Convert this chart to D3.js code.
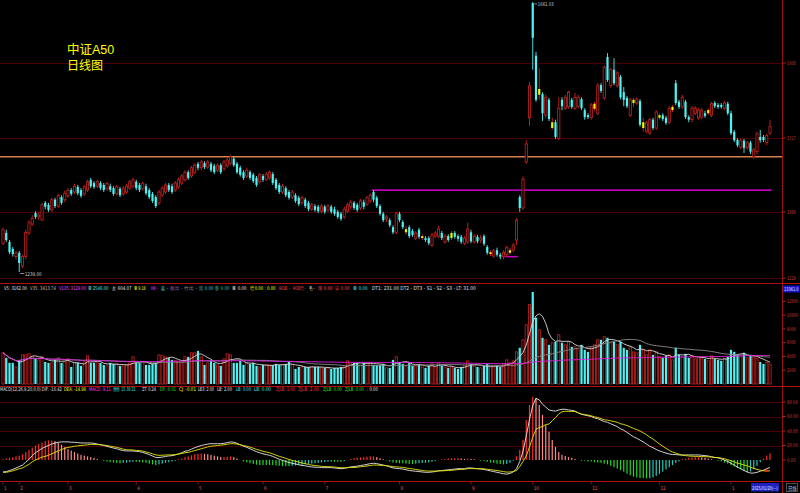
<!DOCTYPE html>
<html><head><meta charset="utf-8">
<script src="https://cdn.jsdelivr.net/npm/d3@7"></script>
<style>html,body{margin:0;padding:0;background:#000;overflow:hidden}text{font-family:"DejaVu Sans",sans-serif}</style>
</head><body><svg id="c" width="800" height="493"></svg>
<script>
const openP=[1284,1300,1286,1275,1263,1269,1248,1263,1300,1314,
1331,1325,1320,1347,1344,1336,1352,1342,1356,1352,
1358,1367,1364,1372,1367,1361,1367,1383,1378,1373,
1378,1375,1369,1373,1370,1362,1369,1361,1364,1370,
1373,1380,1375,1369,1373,1367,1361,1356,1347,1359,
1364,1375,1373,1367,1372,1378,1383,1395,1389,1395,
1408,1402,1409,1403,1408,1405,1398,1406,1400,1405,
1409,1416,1408,1402,1395,1389,1395,1391,1386,1380,
1389,1384,1386,1392,1383,1375,1364,1370,1364,1356,
1359,1355,1347,1352,1347,1337,1342,1341,1334,1341,
1336,1341,1337,1333,1330,1325,1334,1341,1347,1344,
1339,1348,1345,1350,1364,1355,1342,1330,1322,1320,
1309,1301,1330,1317,1301,1309,1303,1292,1305,1292,
1292,1292,1281,1295,1295,1300,1286,1295,1292,1300,
1295,1294,1284,1286,1301,1286,1294,1289,1295,1278,
1267,1264,1273,1266,1263,1266,1269,1273,1289,1356,
1339,1411,1480,1659,1577,1516,1517,1484,1508,1464,
1473,1448,1508,1495,1497,1508,1495,1498,1509,1492,
1484,1480,1494,1487,1531,1511,1575,1530,1555,1530,
1544,1520,1511,1484,1503,1503,1506,1464,1459,1456,
1477,1464,1480,1484,1480,1473,1492,1534,1505,1497,
1505,1481,1477,1487,1480,1481,1487,1487,1484,1503,
1500,1500,1495,1502,1487,1458,1445,1434,1444,1433,
1441,1419,1427,1450,1450,1441,1456];
const closeP=[1305,1289,1270,1267,1269,1253,1263,1301,1316,1323,
1325,1328,1344,1341,1336,1352,1342,1358,1347,1362,
1367,1361,1373,1362,1358,1372,1380,1373,1372,1380,
1370,1367,1377,1367,1361,1372,1359,1370,1373,1380,
1383,1370,1367,1377,1362,1356,1350,1342,1364,1370,
1375,1367,1364,1378,1383,1389,1395,1386,1402,1406,
1402,1411,1403,1411,1398,1395,1406,1395,1411,1414,
1419,1406,1395,1391,1386,1398,1386,1381,1375,1391,
1383,1392,1395,1378,1370,1364,1373,1359,1355,1364,
1350,1345,1355,1342,1337,1344,1336,1334,1342,1333,
1342,1333,1330,1325,1322,1337,1344,1348,1339,1336,
1350,1341,1355,1359,1352,1342,1330,1320,1325,1312,
1301,1330,1320,1309,1306,1295,1297,1300,1294,1295,
1289,1284,1297,1300,1306,1292,1295,1289,1300,1294,
1291,1286,1292,1306,1287,1295,1287,1292,1283,1269,
1270,1272,1266,1263,1270,1277,1273,1281,1320,1339,
1384,1439,1530,1605,1508,1525,1487,1512,1478,1473,
1450,1495,1498,1512,1520,1497,1512,1512,1495,1481,
1481,1500,1502,1531,1522,1559,1539,1555,1534,1550,
1512,1508,1498,1508,1508,1509,1469,1473,1472,1477,
1464,1489,1484,1478,1472,1495,1497,1503,1497,1512,
1481,1477,1495,1495,1492,1492,1483,1492,1502,1498,
1497,1497,1503,1487,1456,1445,1437,1444,1433,1441,
1427,1430,1455,1445,1445,1452,1466];
const highP=[1308,1305,1289,1278,1272,1272,1266,1305,1320,1328,
1334,1333,1347,1350,1347,1355,1355,1361,1359,1366,
1370,1370,1377,1375,1370,1375,1383,1386,1381,1383,
1381,1378,1380,1377,1373,1375,1372,1373,1377,1383,
1386,1383,1378,1380,1377,1370,1364,1359,1367,1373,
1378,1378,1377,1381,1386,1392,1398,1398,1405,1409,
1411,1414,1412,1414,1411,1408,1409,1409,1414,1417,
1422,1419,1411,1405,1398,1402,1398,1394,1389,1394,
1392,1395,1398,1395,1386,1378,1377,1373,1367,1367,
1362,1358,1358,1355,1350,1347,1345,1344,1345,1344,
1345,1344,1341,1336,1333,1341,1347,1352,1350,1347,
1353,1352,1358,1362,1367,1358,1345,1333,1328,1323,
1312,1333,1333,1320,1311,1312,1306,1303,1308,1298,
1295,1295,1300,1303,1311,1303,1298,1298,1303,1303,
1298,1297,1295,1316,1305,1298,1297,1297,1298,1281,
1273,1275,1277,1269,1273,1280,1277,1284,1323,1359,
1388,1445,1536,1661.03,1583,1558,1520,1516,1511,1480,
1477,1512,1512,1516,1522,1511,1519,1516,1512,1495,
1487,1503,1505,1534,1534,1562,1581,1558,1573,1553,
1547,1528,1514,1511,1511,1512,1509,1480,1475,1480,
1480,1492,1487,1487,1483,1498,1500,1539,1508,1516,
1508,1484,1498,1498,1495,1495,1491,1495,1505,1506,
1503,1503,1506,1505,1491,1461,1448,1447,1447,1444,
1444,1433,1458,1461,1453,1455,1477];
const lowP=[1281,1286,1267,1263,1259,1239,1245,1259,1297,1311,
1322,1320,1319,1337,1333,1333,1339,1339,1344,1348,
1355,1358,1361,1359,1355,1358,1364,1370,1369,1370,
1367,1364,1366,1364,1358,1359,1356,1358,1361,1367,
1370,1367,1364,1366,1359,1353,1347,1339,1344,1356,
1361,1364,1361,1364,1369,1375,1380,1383,1386,1392,
1398,1398,1400,1400,1395,1392,1395,1392,1397,1402,
1406,1403,1392,1388,1383,1386,1383,1378,1372,1377,
1380,1381,1383,1375,1367,1361,1361,1356,1352,1353,
1347,1342,1344,1339,1334,1334,1333,1331,1331,1330,
1333,1330,1327,1322,1319,1322,1331,1337,1336,1333,
1336,1337,1342,1347,1348,1339,1327,1317,1317,1309,
1298,1298,1317,1306,1297,1292,1294,1289,1291,1289,
1286,1281,1278,1292,1292,1289,1283,1286,1289,1291,
1287,1283,1281,1283,1284,1283,1284,1284,1280,1266,
1264,1261,1263,1259,1259,1263,1266,1270,1281,1333,
1336,1408,1467,1555,1505,1508,1475,1480,1475,1461,
1447,1445,1492,1492,1494,1494,1492,1495,1492,1477,
1478,1477,1491,1484,1519,1508,1536,1527,1531,1527,
1509,1498,1495,1481,1497,1500,1466,1458,1456,1453,
1461,1461,1477,1475,1469,1470,1489,1500,1494,1494,
1478,1473,1473,1484,1477,1478,1480,1484,1481,1495,
1494,1494,1492,1484,1453,1442,1434,1431,1425,1430,
1423,1416,1423,1441,1442,1437,1453];
const yellowIdx=[124,129,138,150,156,165,169,182,194,197,202,206,217];
const volume=[4530,3800,3070,3070,2480,3500,4230,4230,4380,3940,
3650,3500,3940,3210,3070,3070,3500,3800,3070,3210,
3650,2480,3070,3070,2630,3210,4090,3070,3070,3070,
3070,2770,2630,3070,2920,2920,2630,2630,2770,3070,
3940,3070,3070,3210,2770,2770,2920,3070,4230,4090,
3940,3800,3500,3360,3210,3070,3940,3940,4530,4530,
4820,3940,2770,3070,3360,3070,2770,2630,3650,4380,
4230,3070,3070,3360,2770,3070,2920,3070,2630,2480,
2770,2770,2770,2770,2920,2770,2770,2920,3210,2770,
2190,2480,2480,2480,2480,2480,2480,2480,2340,2340,
2340,2190,2340,2340,2480,2480,3360,3070,3070,3070,
2770,3070,3070,3070,2770,2770,2770,2920,2340,2340,
3500,3940,3210,2920,2630,3070,2630,2770,2920,2480,
2340,2630,2920,2480,3070,2630,2480,2340,2480,2340,
2190,2480,2630,3360,2920,2630,2480,2340,2630,2920,
2480,2480,2630,2480,2920,3500,3070,3360,4670,5260,
6420,8610,11530,13361,9640,7880,6720,6420,5690,5990,
6130,7150,5990,5690,6130,5400,5400,4960,5690,4960,
4670,5260,5690,6420,6420,6860,6720,5990,6130,5690,
6130,5260,4960,5400,4670,4530,5690,4960,4230,4960,
4230,4670,3940,3800,4090,4230,3500,5260,4230,3940,
4380,3800,4090,3650,3800,3940,3650,3360,4090,3650,
3500,3360,3650,3940,4960,4670,4230,3940,4530,3800,
4230,3940,3700,3200,2900,3100,2900];
const dif=[-16.5,-16,-14.5,-13,-11,-9,-7,-3,1,6,
10,13,16,18,20,22,23.5,24.5,25,25,
25,24.5,24.5,24,23.5,23.5,23.5,23.5,23,22,
21,20,19,17.5,16.5,15.5,14,13,12.5,12.5,
12.5,12,11.5,10.5,9,7.5,5.5,3.5,3.5,4,
5,5.5,6,7,8.5,10,12,13,15,17,
18.5,20,21,22,22.5,22.5,22.5,22.5,23,24,
25,24.5,23,21,19,17.5,15.5,13.5,11.5,10,
8.5,7.5,6.5,5,3,1,-0.5,-2,-3.5,-4.5,
-5.5,-6.5,-7.5,-8,-9,-9.5,-10,-10,-10.5,-10.5,
-10.5,-10.5,-11,-11.5,-12,-11.5,-10.5,-9.5,-9,-8.5,
-7.5,-7,-6,-5,-4.5,-5,-6,-7,-8,-9.5,
-11,-11.5,-12,-12.5,-13.5,-14.5,-15,-15.5,-16,-16.5,
-17,-17,-16.5,-16,-15,-14.5,-14,-13.5,-13,-12.5,
-12,-12,-12,-11,-11,-11.5,-12,-12.5,-13,-14,
-15,-16,-17,-18,-19,-19.5,-18.5,-16.5,-12,-2,
12,33,56,75,85,83,77,73,69,68,
67.5,69,70,70,69,68.5,67.5,65,63,62,
61,60,58,57,55,53,52,50,48,46,
43,41,38,35,32,30,27.5,25,22,19,
17,14.5,12.5,11,9.5,8.3,7.5,7.5,7,7,
7,7,7,7,7,6.5,6,5.5,4.5,3.5,
3,1.5,0,-2,-4.5,-7,-10,-12,-14.5,-16.5,
-18,-18,-17,-15.5,-14,-12,-10.42];
const dea=[-17,-17,-16,-15,-13.5,-12,-11,-8.5,-6,-2.5,
0,2,4,5,6.5,8.5,10.5,12.5,14.5,16,
17.5,18,19,19.5,20,20.5,21,21.5,21.5,21.25,
21,20.5,20,19,18.25,17.5,16.25,15,14.25,14,
13.75,13.25,13,12.25,11,10,8.5,7,6.5,6.5,
7,7,7,7.5,8,9,10,10.5,11.75,13,
14.25,15.5,16.75,18,19,19.5,20,20.5,21,21.75,
22.5,22.5,22,21,20,19,17.75,16.25,14.75,13.5,
12,11,10,8.5,6.75,5,3.75,2.25,0.75,-0.5,
-1.75,-3,-4.25,-5,-6.25,-7,-7.75,-8,-8.75,-9,
-9.25,-9.25,-9.75,-10.25,-10.75,-10.75,-10.5,-10.25,-10.25,-10,
-9.25,-9,-8.25,-7.5,-7,-7,-7.25,-7.5,-7.75,-8.5,
-9.25,-9.5,-9.75,-10.25,-11,-11.75,-12.25,-13,-13.75,-14.5,
-15,-15.25,-15.25,-15.25,-15,-15,-14.75,-14.5,-14.25,-13.75,
-13.25,-13,-12.75,-12,-11.75,-12,-12,-12,-12.25,-12.75,
-13.25,-14,-14.5,-15.25,-16,-16.75,-16.5,-16,-14.5,-9,
-2,5.5,18,31.5,42.25,45,46,49,49.5,54.2,
58.5,63.5,66.5,67.25,67,67,66.75,65,63.5,62.5,
62,61,59.5,58.75,57,55.5,55,54,53,52,
50,49,47.5,45.5,43.5,42,40,37.5,34.75,31.5,
29,25.5,22,19,16,13.3,11,9.5,8,6.5,
6,5.5,5.25,5,5,4.75,4.5,4.5,4,3.5,
3.5,2.5,1.75,0.5,-1,-2.5,-4.5,-5.5,-7,-8,
-10,-11.5,-13,-14,-15,-15,-14.98];
const macd=[1,2,3,4,5,6,8,11,14,17,
20,22,24,26,27,27,26,24,21,18,
15,13,11,9,7,6,5,4,3,1.5,
0,-1,-2,-3,-3.5,-4,-4.5,-4,-3.5,-3,
-2.5,-2.5,-3,-3.5,-4,-5,-6,-7,-6,-5,
-4,-3,-2,-1,1,2,4,5,6.5,8,
8.5,9,8.5,8,7,6,5,4,4,4.5,
5,4,2,0,-2,-3,-4.5,-5.5,-6.5,-7,
-7,-7,-7,-7,-7.5,-8,-8.5,-8.5,-8.5,-8,
-7.5,-7,-6.5,-6,-5.5,-5,-4.5,-4,-3.5,-3,
-2.5,-2.5,-2.5,-2.5,-2.5,-1.5,0,1.5,2.5,3,
3.5,4,4.5,5,5,4,2.5,1,-0.5,-2,
-3.5,-4,-4.5,-4.5,-5,-5.5,-5.5,-5,-4.5,-4,
-4,-3.5,-2.5,-1.5,0,1,1.5,2,2.5,2.5,
2.5,2,1.5,2,1.5,1,0,-1,-1.5,-2.5,
-3.5,-4,-5,-5.5,-6,-5.5,-4,-1,5,14,
28,55,76,87,85.5,76,62,48,39,27.6,
18,11,7,5.5,4,3,1.5,0,-1,-1,
-2,-2,-3,-3.5,-4,-5,-6,-8,-10,-12,
-14,-16,-19,-21,-23,-24,-25,-25,-25.5,-25,
-24,-22,-19,-16,-13,-10,-7,-4,-2,1,
2,3,3.5,4,4,3.5,3,2,1,0,
-1,-2,-3.5,-5,-7,-9,-11,-13,-15,-17,
-16,-13,-8,-3,2,6,9.11];
const monthIdx=[0,5,20,41,60,80,99,122,144,163,181,202,224];
const monthLabels=["1","2","3","4","5","6","7","8","9","10","11","12","1"];
const priceTicks=[1565.6,1448.4,1332.8,1229.6];
const priceTickLabels=["1603","1517","1388","1229"];
const volTicks=[2000,4000,6000,8000,10000,12000];
const macdTicks=[0,20,40,60,80];
const levelPrices=[1419,1367,1263];
const levelFrom=[0,114,155];
const levelTo=[236,236,158];
const levelColors=["#d8804a","#ff00ff","#d000d0"];
const titleLines=["中证A50","日线图"];
const volHeader=[
 [4,23,"V5: 3162.00","#e0e0e0"],[30,26,"V35: 3413.74","#bdbdbd"],[59,27,"V135: 3129.00","#ff40ff"],
 [88,21,"量 2546.00","#40e0e0"],[112,19,"金 604.07","#e0e0e0"],[134,12,"量 9.18","#ffff00"],
 [151,7,"H8 -","#ff40ff"],[161,7,"盘 -","#40e0e0"],[170,12,"创出 -","#b070d0"],[184,13,"竹出 -","#a0a0a0"],
 [199,14,"流 0.00","#30d0d0"],[215,14,"股 0.00","#30c0a0"],[232,14,"量 0.00","#e0e0e0"],
 [250,26,"增 0.00 : 0.00","#ffff00"],[279,11,"ROE -","#ff4040"],[293,13,"ROE增 -","#ff4040"],
 [309,6,"毛 -","#e0e0e0"],[318,14,"现 0.00","#ff5060"],[335,14,"日 0.00","#ff4040"],[353,14,"量 0.00","#40e0e0"],
 [372,104,"DT1: 231.00 DT2 - DT3 - S1 - S2 - S3 - LT: 31.00","#e0e0e0"]];
const macdHeader=[
 [0,62,"MACD(12,26,9,20,0,0) DIF: -10.42","#e0e0e0"],[64,22,"DEA: -14.98","#ffff00"],[89,22,"MACD: 9.11","#ff40ff"],
 [113,23,"强弱: 15.38 21","#40e0e0"],[142,14,"ZT: 0.24","#e0e0e0"],[160,16,"DF: -0.01","#20e020"],
 [179,17,"CJ: -0.01","#ffff00"],[198,16,"LB3: 2.00","#e0e0e0"],[217,15,"LB: 2.00","#e0e0e0"],
 [236,15,"LB: 0.00","#40e0e0"],[254,17,"LB: 0.00","#40e0e0"],[276,19,"ZJLB: 1.00","#ff3030"],
 [298,21,"ZJLB: 2.00","#ff3030"],[323,19,"ZJLB: 0.00","#20e020"],[345,19,"ZJLB: 0.00","#20e020"],[367,11,": 0.00","#e0e0e0"]];

const W=800,H=493,AX=782.5;
const RED="#cc2222",CYAN="#4ef2f2",YEL="#f4f400",AXC="#c83a3a";
const svg=d3.select("#c");
svg.append("rect").attr("width",W).attr("height",H).attr("fill","#000");
const N=closeP.length, idx=d3.range(N);
const x=d3.scaleLinear().domain([0,N-1]).range([3,770]);
const yP=d3.scaleLinear().domain([1226.5,1664]).range([280,0]);
const yV=d3.scaleLinear().domain([0,13361]).range([384,292]);
const yM=d3.scaleLinear().domain([0,80]).range([460,402]);
const ySet=new Set(yellowIdx);
const kind=i=>ySet.has(i)?"y":(closeP[i]>=openP[i]?"r":"c");

function fit(g,x0,y0,w,str,color,fs,family){
 const t=g.append("text").attr("font-size",fs).attr("fill",color).text(str);
 if(family) t.style("font-family",family);
 const nat=t.node().getComputedTextLength();
 const s=Math.min(1,w/nat);
 t.attr("transform",`translate(${x0},${y0}) scale(${s},1)`);
 return t;
}

const defs=svg.append("defs");
defs.append("clipPath").attr("id","cm").append("rect").attr("x",0).attr("y",0).attr("width",AX).attr("height",283);
defs.append("clipPath").attr("id","cv").append("rect").attr("x",0).attr("y",291).attr("width",AX).attr("height",94);
defs.append("clipPath").attr("id","cd").append("rect").attr("x",0).attr("y",392).attr("width",AX).attr("height",89);

const grid=svg.append("g").attr("stroke","#4a0000").attr("stroke-width",1);
priceTicks.forEach(t=>grid.append("line").attr("x1",0).attr("x2",AX).attr("y1",Math.round(yP(t))+0.5).attr("y2",Math.round(yP(t))+0.5));
macdTicks.filter(t=>t>0).forEach(t=>grid.append("line").attr("x1",0).attr("x2",AX).attr("y1",Math.round(yM(t))+0.5).attr("y2",Math.round(yM(t))+0.5));

const gm=svg.append("g").attr("clip-path","url(#cm)");
levelPrices.forEach((p,k)=>gm.append("line").attr("x1",k===0?0:x(levelFrom[k])-1.5).attr("x2",k===0?AX:x(levelTo[k])+1.5)
 .attr("y1",yP(p)).attr("y2",yP(p)).attr("stroke",levelColors[k]).attr("stroke-width",k===0?1.6:1.4));
gm.selectAll("line.w").data(idx).join("line").attr("class","w")
 .attr("x1",i=>x(i)).attr("x2",i=>x(i)).attr("y1",i=>yP(highP[i])).attr("y2",i=>yP(lowP[i]))
 .attr("stroke",i=>kind(i)==="c"?CYAN:RED).attr("stroke-width",0.9);
gm.selectAll("rect.b").data(idx).join("rect").attr("class","b")
 .attr("x",i=>x(i)-1.1).attr("width",2.2)
 .attr("y",i=>yP(Math.max(openP[i],closeP[i])))
 .attr("height",i=>Math.max(1,yP(Math.min(openP[i],closeP[i]))-yP(Math.max(openP[i],closeP[i]))))
 .attr("fill",i=>{const k=kind(i);return k==="r"?"#000":k==="c"?CYAN:YEL;})
 .attr("stroke",i=>kind(i)==="r"?RED:"none").attr("stroke-width",0.8);
const hiI=d3.maxIndex(highP), loI=d3.minIndex(lowP);
gm.append("line").attr("x1",x(hiI)+1.5).attr("x2",x(hiI)+4.5).attr("y1",yP(highP[hiI])+2).attr("y2",yP(highP[hiI])+2).attr("stroke","#c8c8c8").attr("stroke-width",0.7);
fit(gm,x(hiI)+5,yP(highP[hiI])+4,16,d3.format(".2f")(highP[hiI]),"#c8c8c8",5);
gm.append("line").attr("x1",x(loI)+1).attr("x2",x(loI)+5).attr("y1",yP(lowP[loI])+1.5).attr("y2",yP(lowP[loI])+1.5).attr("stroke","#c8c8c8").attr("stroke-width",0.7);
fit(gm,x(loI)+5.5,yP(lowP[loI])+3.5,17,d3.format(".2f")(lowP[loI]),"#c8c8c8",5);
// title (Liberation Sans primary keeps line boxes compact; CJK falls back to Noto)
svg.append("text").attr("x",67).attr("y",54).attr("font-size",12.5).attr("fill","#ffff00")
 .style("font-family","'Liberation Sans','Noto Sans CJK SC',sans-serif").text(titleLines[0]);
svg.append("text").attr("x",67).attr("y",69.5).attr("font-size",12).attr("fill","#ffff00")
 .style("font-family","'Liberation Sans','Noto Sans CJK SC',sans-serif").text(titleLines[1]);

const gv=svg.append("g").attr("clip-path","url(#cv)");
gv.selectAll("rect").data(idx).join("rect")
 .attr("x",i=>x(i)-1.1).attr("width",2.2).attr("y",i=>yV(volume[i])).attr("height",i=>yV(0)-yV(volume[i]))
 .attr("fill",i=>kind(i)==="c"?CYAN:"#000").attr("stroke",i=>kind(i)==="c"?"none":RED).attr("stroke-width",0.8);
const ma=(arr,n)=>arr.map((v,i)=>d3.mean(arr.slice(Math.max(0,i-n+1),i+1)));
[[5,"#d8d8d8"],[35,"#8a8a8a"],[135,"#e020e0"]].forEach(([n,c])=>{
 const m=ma(volume,n);
 gv.append("path").attr("d",d3.line().x((v,i)=>x(i)).y(v=>yV(v))(m)).attr("fill","none").attr("stroke",c).attr("stroke-width",0.9);
});

const gd=svg.append("g").attr("clip-path","url(#cd)");
gd.selectAll("rect").data(idx).join("rect")
 .attr("x",i=>x(i)-0.6).attr("width",1.2)
 .attr("y",i=>Math.min(yM(macd[i]),yM(0))).attr("height",i=>Math.abs(yM(macd[i])-yM(0)))
 .attr("fill",i=>{const v=macd[i],p=i>0?macd[i-1]:v;return v>=0?(v>=p?"#ff2a2a":"#ff8a8a"):(v<=p?"#22d822":"#22c8b8");});
gd.append("path").attr("d",d3.line().x((v,i)=>x(i)).y(v=>yM(v))(dif)).attr("fill","none").attr("stroke","#e8e8e8").attr("stroke-width",0.9);
gd.append("path").attr("d",d3.line().x((v,i)=>x(i)).y(v=>yM(v))(dea)).attr("fill","none").attr("stroke","#e8e800").attr("stroke-width",0.9);
gd.append("path").attr("d",`M${x(N-2)},${yM(-12)} l-2,3 l4,0 z`).attr("fill","#ff2020");

const fr=svg.append("g").attr("stroke","#b01010").attr("stroke-width",1);
[283.5,386.5,481.5].forEach(y=>fr.append("line").attr("x1",0).attr("x2",W).attr("y1",y).attr("y2",y));
fr.append("line").attr("x1",AX).attr("x2",AX).attr("y1",0).attr("y2",H).attr("stroke","#9a1010");

const gh=svg.append("g");
volHeader.forEach(s=>fit(gh,s[0],289.5,s[1],s[2],s[3],5));
macdHeader.forEach(s=>fit(gh,s[0],391,s[1],s[2],s[3],5));

const ra=svg.append("g");
const tick=(y,label)=>{ra.append("line").attr("x1",AX).attr("x2",AX+3).attr("y1",y).attr("y2",y).attr("stroke",AXC).attr("stroke-width",0.8);
 fit(ra,787,y+1.8,label.length*2.2,label,AXC,5);};
priceTicks.forEach((t,k)=>tick(yP(t),priceTickLabels[k]));
volTicks.forEach(t=>tick(yV(t),String(t)));
macdTicks.forEach(t=>tick(yM(t),d3.format(".2f")(t)));
svg.append("rect").attr("x",783).attr("y",285.5).attr("width",16.5).attr("height",7).attr("fill","#1414c8");
fit(svg,784,291,14.5,d3.format(".1f")(d3.max(volume)),"#e0e0ff",5);

const da=svg.append("g");
monthIdx.forEach((m,k)=>{
 da.append("line").attr("x1",x(m)).attr("x2",x(m)).attr("y1",481.5).attr("y2",484.5).attr("stroke","#b01010").attr("stroke-width",0.8);
 fit(da,x(m)+1,489.5,monthLabels[k].length*2.6,monthLabels[k],"#e06060",5);
});
svg.append("rect").attr("x",751).attr("y",483).attr("width",28).attr("height",8.5).attr("fill","#2020c0");
fit(svg,752,489.5,26,"2025/01/20(一)","#e8e8ff",5);
svg.append("rect").attr("x",786.5).attr("y",483.5).attr("width",11).attr("height",8).attr("fill","none").attr("stroke","#707070").attr("stroke-width",0.7);
fit(svg,788,489.8,8.5,"日线","#d0d0d0",5,"'Noto Sans CJK SC'");
</script></body></html>
